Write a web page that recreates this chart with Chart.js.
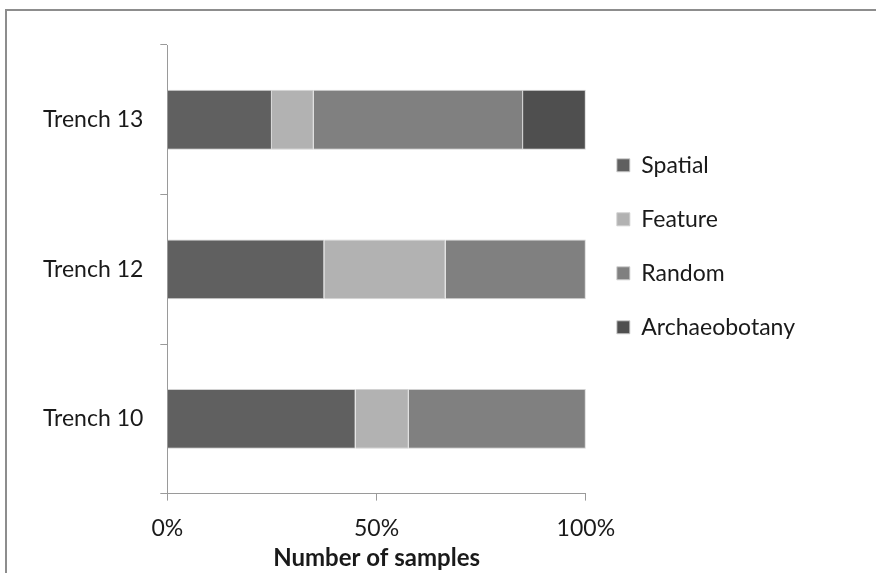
<!DOCTYPE html>
<html>
<head>
<meta charset="utf-8">
<script src="https://cdn.jsdelivr.net/npm/chart.js@4/dist/chart.umd.min.js"></script>
<style>
  body { margin: 0; background: #fff; overflow: hidden; }
  #frame { position: absolute; left: 5px; top: 9px; width: 900px; height: 600px; border: 2px solid #8d8d8d; }
  #wrap { position: absolute; left: 0; top: 0; width: 869px; height: 562px; }
</style>
</head>
<body>
<div id="frame"><div id="wrap"><canvas id="myChart"></canvas></div></div>
<script>
const trenches = ['Trench 13', 'Trench 12', 'Trench 10'];
const spatial = [25, 37.5, 45];
const feature = [10, 29, 12.7];
const random = [50, 33.5, 42.3];
const archaeobotany = [15, 0, 0];
const xTicks = [0, 50, 100];

const font = 'Lato, "Liberation Sans", sans-serif';
const axisColor = '#9a9a9a';
const textColor = '#1a1a1a';

// legend sits a bit above the plot's middle in the original
const legendShift = {
    id: 'legendShift',
    afterLayout(chart) {
        chart.legend.top -= 23;
        chart.legend.bottom -= 23;
    },
};

const data = {
    labels: trenches,
    datasets: [
        { label: 'Spatial', data: spatial, backgroundColor: '#606060' },
        { label: 'Feature', data: feature, backgroundColor: '#b2b2b2' },
        { label: 'Random', data: random, backgroundColor: '#808080' },
        { label: 'Archaeobotany', data: archaeobotany, backgroundColor: '#4f4f4f' },
    ],
};

const config = {
    type: 'bar',
    data: data,
    plugins: [legendShift],
    options: {
        indexAxis: 'y',
        responsive: true,
        maintainAspectRatio: false,
        animation: false,
        categoryPercentage: 0.4,
        barPercentage: 1,
        borderColor: 'rgba(205, 205, 205, 0.9)',
        borderWidth: 1,
        layout: { padding: { left: 19, right: 71, top: 34, bottom: 0 } },
        plugins: {
            tooltip: { enabled: false },
            legend: {
                position: 'right',
                fullSize: false,
                maxWidth: 300,
                labels: {
                    color: textColor,
                    font: { family: font, size: 23 },
                    boxWidth: 13,
                    boxHeight: 13,
                    padding: 31,
                },
            },
        },
        scales: {
            x: {
                stacked: true,
                min: 0,
                max: 100,
                afterBuildTicks: (axis) => { axis.ticks = xTicks.map(v => ({ value: v })); },
                ticks: {
                    color: textColor,
                    font: { family: font, size: 23 },
                    padding: 14,
                    callback: (value) => value + '%',
                },
                grid: { drawOnChartArea: false, tickLength: 7, color: axisColor },
                border: { color: axisColor, width: 1 },
                title: {
                    display: true,
                    text: 'Number of samples',
                    color: textColor,
                    font: { family: font, size: 24, weight: 'bold' },
                    padding: { top: -12, bottom: 0 },
                },
            },
            y: {
                stacked: true,
                ticks: {
                    color: textColor,
                    font: { family: font, size: 23 },
                    padding: 17,
                },
                grid: { drawOnChartArea: false, tickLength: 7, color: axisColor, offset: true },
                border: { color: axisColor, width: 1 },
            },
        },
    },
};
const myChart = new Chart(document.getElementById('myChart'), config);
</script>
</body>
</html>
